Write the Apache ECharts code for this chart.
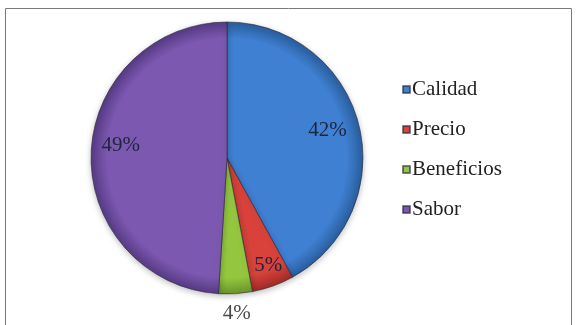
<!DOCTYPE html>
<html><head><meta charset="utf-8">
<script src="https://cdn.jsdelivr.net/npm/echarts@6/dist/echarts.min.js"></script>
<style>html,body{margin:0;padding:0;background:#fff}#c{width:580px;height:325px}</style>
</head><body><div id="c"></div>
<script>
var categories = ['Calidad', 'Precio', 'Beneficios', 'Sabor'];
var values = [42, 5, 4, 49];
var colors = ['#3F80D2', '#D8423B', '#94C73F', '#7C58B0'];
var edgeColors = ['#2A5E9E', '#A02C27', '#6A9429', '#573A85'];
var labelRadiusFactor = [0.74, 0.83, 1.12, 0.76];
var labelOffsets = [[0, -2], [2, -2], [0, 0], [0, -9]];

var CX = 227, CY = 158, R = 136;
var chart = echarts.init(document.getElementById('c'));

function grad(i) {
  return {type: 'radial', x: CX, y: CY, r: R, global: true,
    colorStops: [{offset: 0, color: colors[i]}, {offset: 0.88, color: colors[i]}, {offset: 1, color: edgeColors[i]}]};
}

var series = [{
  type: 'pie', center: [CX, CY], radius: [0, R], startAngle: 90, clockwise: true,
  label: {show: false}, labelLine: {show: false}, silent: true,
  itemStyle: {borderColor: 'rgba(40,40,60,0.6)', borderWidth: 1, shadowBlur: 6, shadowColor: 'rgba(0,0,0,0.25)', shadowOffsetY: 2},
  data: categories.map(function (c, i) { return {name: c, value: values[i], itemStyle: {color: grad(i)}}; })
}];

labelRadiusFactor.forEach(function (f, k) {
  series.push({
    type: 'pie', center: [CX, CY], radius: [0, 2 * f * R], startAngle: 90, clockwise: true, silent: true,
    labelLine: {show: false}, itemStyle: {color: 'transparent'}, emphasis: {disabled: true},
    data: categories.map(function (c, i) {
      return {name: c, value: values[i], label: {show: i === k, position: 'inside', offset: labelOffsets[i],
        formatter: values[i] + '%', fontFamily: 'Liberation Serif', fontSize: 21,
        color: i === 2 ? '#4a4a4a' : '#1f2440'}};
    })
  });
});

chart.setOption({
  animation: false,
  color: colors,
  legend: {
    orient: 'vertical', left: 397, top: 74, icon: 'rect', itemWidth: 7, itemHeight: 7, itemGap: 19,
    textStyle: {fontFamily: 'Liberation Serif', fontSize: 21, lineHeight: 21, color: '#222', padding: [0, 0, 0, -3]},
    data: categories.map(function (c, i) { return {name: c, itemStyle: {color: colors[i]}}; }),
    selectedMode: false
  },
  graphic: [{type: 'rect', shape: {x: 5.5, y: 8.5, width: 566, height: 340}, style: {fill: 'none', stroke: '#7a7a7a', lineWidth: 1}, silent: true}],
  series: series
});
</script></body></html>
